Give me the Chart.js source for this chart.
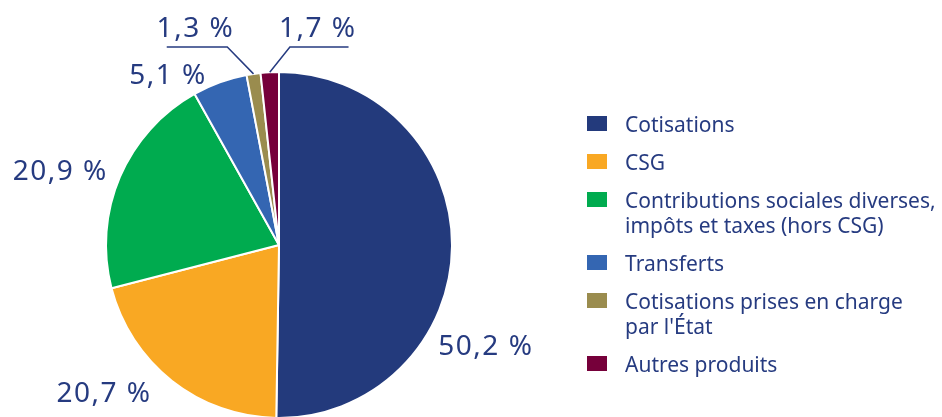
<!DOCTYPE html>
<html>
<head>
<meta charset="utf-8">
<script src="https://cdn.jsdelivr.net/npm/chart.js@4"></script>
<style>
  html, body { margin: 0; padding: 0; background: #fff; overflow: hidden; }
  canvas { display: block; }
</style>
</head>
<body>
<canvas id="pieChart" width="942" height="421"></canvas>
<script>
var categories = [
  'Cotisations',
  'CSG',
  ['Contributions sociales diverses,', 'impôts et taxes (hors CSG)'],
  'Transferts',
  ['Cotisations prises en charge', "par l'État"],
  'Autres produits'
];
var shares = [50.2, 20.7, 20.9, 5.1, 1.3, 1.7];
var colors = ['#233a7c', '#f9a823', '#00ab4f', '#3466b2', '#9a8c4e', '#76003a'];

// label position, relative to pie centre, in units of the radius
var labelAt = [[1.19, 0.59], [-1.017, 0.862], [-1.27, -0.42], [-0.647, -0.975], [-0.489, -1.25], [0.218, -1.25]];
// leader lines: [elbow x, elbow y, far end x] in radius units, null = none
var leaders = [null, null, null, null, [-0.299, -1.144, -0.649], [0.063, -1.144, 0.402]];

var textColor = '#263b80';
var fontFamily = '"Noto Sans", sans-serif';

var labelPlugin = {
  id: 'pctLabels',
  afterDatasetsDraw: function(chart) {
    var ctx = chart.ctx;
    var meta = chart.getDatasetMeta(0);
    ctx.save();
    ctx.fillStyle = textColor;
    ctx.strokeStyle = textColor;
    ctx.lineWidth = 1.5;
    ctx.font = '28px ' + fontFamily;
    ctx.letterSpacing = '1.5px';
    ctx.textAlign = 'center';
    ctx.textBaseline = 'middle';
    meta.data.forEach(function(arc, i) {
      var cx = arc.x, cy = arc.y, r = arc.outerRadius;
      var txt = shares[i].toFixed(1).replace('.', ',') + ' %';
      ctx.fillText(txt, cx + labelAt[i][0] * r + 1, cy + labelAt[i][1] * r);
      var l = leaders[i];
      if (l) {
        var mid = (arc.startAngle + arc.endAngle) / 2;
        ctx.beginPath();
        ctx.moveTo(cx + Math.cos(mid) * r, cy + Math.sin(mid) * r);
        ctx.lineTo(cx + l[0] * r, cy + l[1] * r);
        ctx.lineTo(cx + l[2] * r, cy + l[1] * r);
        ctx.stroke();
      }
    });
    ctx.restore();
  }
};

var legendPlugin = {
  id: 'sideLegend',
  afterDraw: function(chart) {
    var ctx = chart.ctx;
    var x0 = 587, y = 125, lineH = 25, gap = 38;
    ctx.save();
    ctx.font = '21px ' + fontFamily;
    ctx.textBaseline = 'middle';
    ctx.textAlign = 'left';
    chart.data.labels.forEach(function(lab, i) {
      var lines = Array.isArray(lab) ? lab : [lab];
      ctx.fillStyle = chart.data.datasets[0].backgroundColor[i];
      ctx.fillRect(x0, y - 9, 20, 15);
      ctx.fillStyle = textColor;
      lines.forEach(function(t, k) {
        ctx.fillText(t, x0 + 38, y + 1 + k * lineH);
      });
      y += (lines.length - 1) * lineH + gap;
    });
    ctx.restore();
  }
};

var config = {
  type: 'pie',
  data: {
    labels: categories,
    datasets: [{
      data: shares,
      backgroundColor: colors,
      borderColor: '#ffffff',
      borderWidth: 2
    }]
  },
  options: {
    responsive: false,
    animation: false,
    layout: { padding: { left: 105, right: 489, top: 71, bottom: 2 } },
    plugins: {
      legend: { display: false },
      tooltip: { enabled: false }
    }
  },
  plugins: [labelPlugin, legendPlugin]
};

var ctx = document.getElementById('pieChart').getContext('2d');
window.myPie = new Chart(ctx, config);
</script>
</body>
</html>
